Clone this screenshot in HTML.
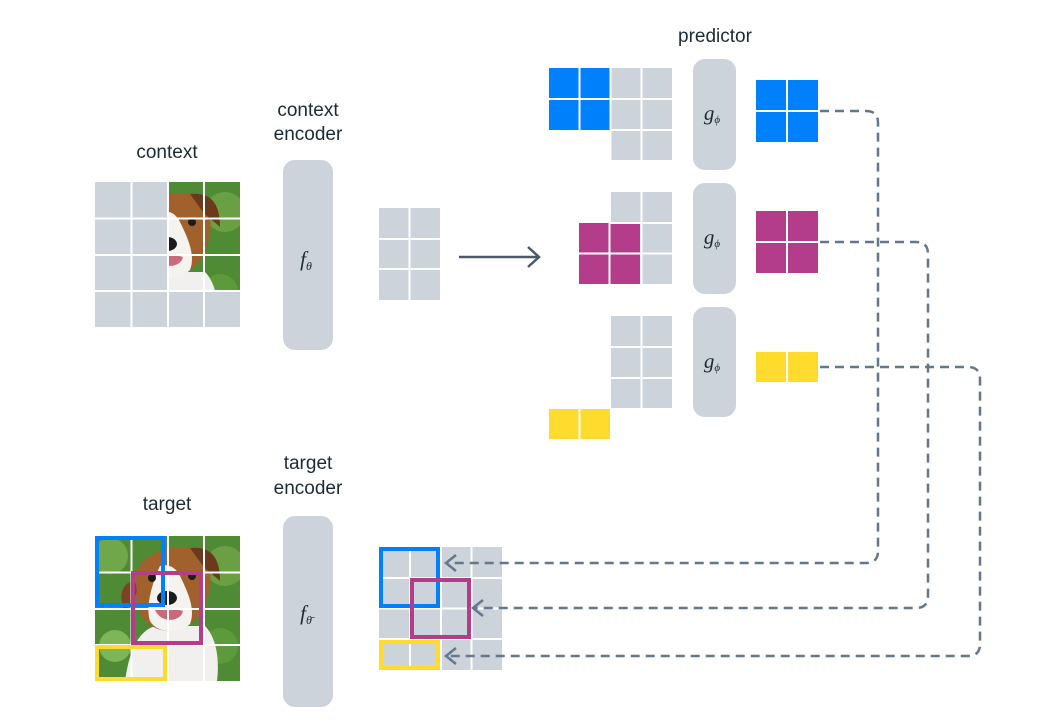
<!DOCTYPE html>
<html><head><meta charset="utf-8"><style>
html,body{margin:0;padding:0;background:#fff;width:1043px;height:723px;overflow:hidden}
text{font-family:"Liberation Sans","DejaVu Sans",sans-serif;fill:#1c2b33}
text.m{font-family:"Liberation Serif","DejaVu Serif",serif;font-style:italic}
</style></head><body>
<svg width="1043" height="723" viewBox="0 0 1043 723" xmlns="http://www.w3.org/2000/svg">
<defs>
<g id="dog">
<rect x="0" y="0" width="145" height="145" fill="#4f8a35"/>
<circle cx="15" cy="20" r="18" fill="#6fa74a"/>
<circle cx="130" cy="30" r="20" fill="#6aa043"/>
<circle cx="20" cy="110" r="16" fill="#7db558"/>
<circle cx="125" cy="110" r="18" fill="#5c9a3c"/>
<path d="M30 145 C35 110 45 95 60 90 L110 90 C120 100 125 120 122 145 Z" fill="#f2f0ee"/>
<path d="M40 40 C45 20 70 8 95 12 C110 15 118 30 115 50 C112 75 100 92 75 95 C55 95 42 80 40 60 Z" fill="#a0612c"/>
<path d="M95 12 C115 10 125 20 125 45 C120 40 112 35 108 30 Z" fill="#6b3a1c"/>
<path d="M40 45 C28 45 22 60 30 75 C35 70 40 62 42 55 Z" fill="#7a4420"/>
<path d="M65 30 C72 28 80 30 85 40 C95 60 100 75 95 88 C85 98 62 98 55 85 C50 70 58 45 65 30 Z" fill="#f5f3f0"/>
<ellipse cx="72" cy="62" rx="10" ry="7" fill="#1b1b1b"/>
<circle cx="57" cy="42" r="4" fill="#1b1b1b"/>
<circle cx="97" cy="40" r="4" fill="#1b1b1b"/>
<path d="M60 74 C68 72 80 72 88 75 C86 86 66 88 60 74 Z" fill="#c96a7a"/>
</g>
<clipPath id="ctxclip"><rect x="168" y="182" width="72" height="108"/></clipPath>
<clipPath id="tgtclip"><rect x="95" y="536" width="145" height="145"/></clipPath>
</defs>

<text x="167" y="158" font-size="19" text-anchor="middle">context</text>
<text x="308" y="116" font-size="19" text-anchor="middle">context</text>
<text x="308" y="140" font-size="19" text-anchor="middle">encoder</text>
<text x="715" y="42" font-size="19" text-anchor="middle">predictor</text>
<text x="167" y="510" font-size="19" text-anchor="middle">target</text>
<text x="308" y="469" font-size="19" text-anchor="middle">target</text>
<text x="308" y="494" font-size="19" text-anchor="middle">encoder</text>

<!-- context grid -->
<rect x="95" y="182" width="145" height="145" fill="#cdd3db"/>
<g clip-path="url(#ctxclip)"><use href="#dog" x="95" y="182"/></g>
<g stroke="#fff" stroke-width="2">
<line x1="131.5" y1="182" x2="131.5" y2="327"/><line x1="168" y1="182" x2="168" y2="327"/><line x1="204" y1="182" x2="204" y2="327"/>
<line x1="95" y1="218.5" x2="240" y2="218.5"/><line x1="95" y1="255" x2="240" y2="255"/><line x1="95" y1="291" x2="240" y2="291"/>
</g>

<!-- encoders -->
<rect x="283" y="160" width="50" height="190" rx="12" fill="#cdd3db"/>
<text class="m" x="306" y="266" font-size="21" text-anchor="middle">f<tspan font-size="12" dy="4">θ</tspan></text>
<rect x="283" y="516" width="50" height="191" rx="12" fill="#cdd3db"/>
<text class="m" x="306" y="620" font-size="21" text-anchor="middle">f<tspan font-size="12" dy="4">θ̄</tspan></text>

<!-- middle grid -->
<rect x="379" y="208" width="61" height="92" fill="#cdd3db"/>
<g stroke="#fff" stroke-width="2"><line x1="409.5" y1="208" x2="409.5" y2="300"/><line x1="379" y1="239" x2="440" y2="239"/><line x1="379" y1="269" x2="440" y2="269"/></g>
<line x1="459" y1="257" x2="538" y2="257" stroke="#4a5a6a" stroke-width="2.5"/>
<path d="M528 247 L539 257 L528 267" fill="none" stroke="#4a5a6a" stroke-width="2.5"/>

<!-- predictor rows -->
<rect x="611" y="68" width="61" height="92" fill="#cdd3db"/>
<rect x="549" y="68" width="61" height="62" fill="#0081fb"/>
<rect x="611" y="192" width="61" height="92" fill="#cdd3db"/>
<rect x="579" y="223" width="61" height="61" fill="#b33d8a"/>
<rect x="611" y="316" width="61" height="92" fill="#cdd3db"/>
<rect x="549" y="409" width="61" height="30" fill="#ffdb2e"/>
<g stroke="#fff" stroke-width="2">
<line x1="579.5" y1="68" x2="579.5" y2="130"/><line x1="641.5" y1="68" x2="641.5" y2="160"/><line x1="549" y1="99" x2="672" y2="99"/><line x1="611" y1="130" x2="672" y2="130"/><line x1="610.5" y1="68" x2="610.5" y2="160"/>
<line x1="641.5" y1="192" x2="641.5" y2="284"/><line x1="610" y1="223" x2="672" y2="223"/><line x1="579" y1="253.5" x2="672" y2="253.5"/><line x1="609.5" y1="223" x2="609.5" y2="284"/>
<line x1="641.5" y1="316" x2="641.5" y2="408"/><line x1="611" y1="347" x2="672" y2="347"/><line x1="611" y1="378" x2="672" y2="378"/><line x1="579.5" y1="409" x2="579.5" y2="439"/>
</g>
<rect x="693" y="59" width="43" height="111" rx="12" fill="#cdd3db"/>
<rect x="693" y="183" width="43" height="111" rx="12" fill="#cdd3db"/>
<rect x="693" y="307" width="43" height="110" rx="12" fill="#cdd3db"/>
<text class="m" x="712" y="120" font-size="21" text-anchor="middle">g<tspan font-size="11" dy="3">ϕ</tspan></text>
<text class="m" x="712" y="244" font-size="21" text-anchor="middle">g<tspan font-size="11" dy="3">ϕ</tspan></text>
<text class="m" x="712" y="368" font-size="21" text-anchor="middle">g<tspan font-size="11" dy="3">ϕ</tspan></text>
<rect x="756" y="80" width="62" height="62" fill="#0081fb"/>
<rect x="756" y="211" width="62" height="62" fill="#b33d8a"/>
<rect x="756" y="352" width="62" height="30" fill="#ffdb2e"/>
<g stroke="#fff" stroke-width="2">
<line x1="787" y1="80" x2="787" y2="142"/><line x1="756" y1="111" x2="818" y2="111"/>
<line x1="787" y1="211" x2="787" y2="273"/><line x1="756" y1="242" x2="818" y2="242"/>
<line x1="787" y1="352" x2="787" y2="382"/>
</g>

<!-- target image -->
<g clip-path="url(#tgtclip)"><use href="#dog" x="95" y="536"/></g>
<g stroke="#fff" stroke-width="2">
<line x1="131.5" y1="536" x2="131.5" y2="681"/><line x1="168" y1="536" x2="168" y2="681"/><line x1="204" y1="536" x2="204" y2="681"/>
<line x1="95" y1="572.5" x2="240" y2="572.5"/><line x1="95" y1="609" x2="240" y2="609"/><line x1="95" y1="645" x2="240" y2="645"/>
</g>
<rect x="97" y="538" width="66" height="67" fill="none" stroke="#0081fb" stroke-width="4"/>
<rect x="133" y="573" width="68" height="70" fill="none" stroke="#b33d8a" stroke-width="4"/>
<rect x="97" y="647" width="68" height="32" fill="none" stroke="#ffdb2e" stroke-width="4"/>

<!-- bottom grid -->
<rect x="379" y="547" width="123" height="123" fill="#cdd3db"/>
<g stroke="#fff" stroke-width="2">
<line x1="410" y1="547" x2="410" y2="670"/><line x1="441" y1="547" x2="441" y2="670"/><line x1="471.5" y1="547" x2="471.5" y2="670"/>
<line x1="379" y1="578" x2="502" y2="578"/><line x1="379" y1="608.5" x2="502" y2="608.5"/><line x1="379" y1="639" x2="502" y2="639"/>
</g>
<rect x="381" y="549" width="57" height="57" fill="none" stroke="#0081fb" stroke-width="4"/>
<rect x="412" y="580" width="57" height="57" fill="none" stroke="#b33d8a" stroke-width="4"/>
<rect x="381" y="642" width="57" height="26" fill="none" stroke="#ffdb2e" stroke-width="4"/>

<!-- dashed connectors -->
<g fill="none" stroke="#65778a" stroke-width="2.5" stroke-dasharray="9 6">
<path d="M820 111 H866 Q878 111 878 123 V551 Q878 563 866 563 H447"/>
<path d="M820 242 H916 Q928 242 928 254 V596 Q928 608 916 608 H474"/>
<path d="M820 367 H968 Q980 367 980 379 V644 Q980 656 968 656 H447"/>
</g>
<g fill="none" stroke="#65778a" stroke-width="2.5">
<path d="M456 555 L446 563 L456 571"/>
<path d="M483 600 L473 608 L483 616"/>
<path d="M456 648 L446 656 L456 664"/>
</g>
</svg>
</body></html>
